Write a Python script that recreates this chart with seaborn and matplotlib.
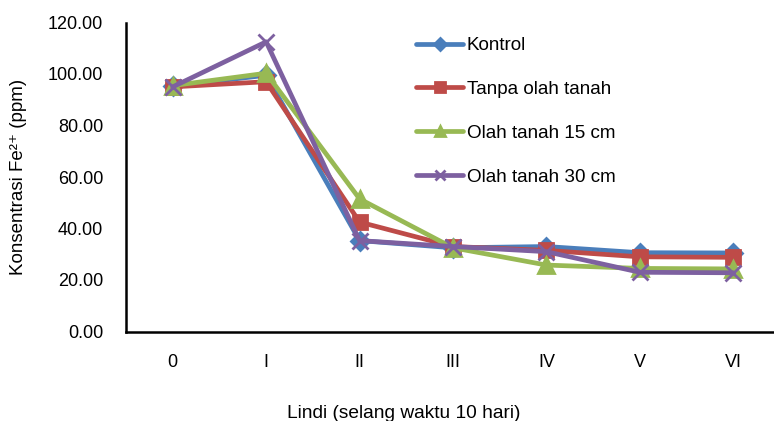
"""Fe2+ concentration in leachate over time, per tillage treatment."""

import numpy as np
import pandas as pd
import seaborn as sns
from matplotlib import pyplot as plt

periods = ["0", "I", "II", "III", "IV", "V", "VI"]
kontrol = [95.3, 99.5, 35.3, 32.5, 33.0, 30.6, 30.5]
tanpa_olah = [95.0, 97.0, 42.5, 33.0, 31.5, 29.0, 28.8]
olah_15 = [95.5, 100.3, 51.5, 32.5, 25.8, 24.5, 24.3]
olah_30 = [95.0, 112.5, 35.3, 33.0, 31.0, 23.0, 22.8]

series = {
    "Kontrol": kontrol,
    "Tanpa olah tanah": tanpa_olah,
    "Olah tanah 15 cm": olah_15,
    "Olah tanah 30 cm": olah_30,
}
palette = {
    "Kontrol": "#4A7EBB",
    "Tanpa olah tanah": "#BE4B48",
    "Olah tanah 15 cm": "#98B954",
    "Olah tanah 30 cm": "#7D60A0",
}
markers = {
    "Kontrol": "D",
    "Tanpa olah tanah": "s",
    "Olah tanah 15 cm": "^",
    "Olah tanah 30 cm": "x",
}
marker_sizes = {"Kontrol": 9, "Tanpa olah tanah": 10.5, "Olah tanah 15 cm": 11, "Olah tanah 30 cm": 11}

sns.set_theme(style="white")
plt.rcParams["font.family"] = ["Liberation Sans", "DejaVu Sans"]
plt.rcParams["text.color"] = "black"

fig = plt.figure(figsize=(7.74, 4.21), dpi=100)
ax = fig.add_axes([126 / 774, 1 - 331.5 / 421, 654 / 774, 309 / 421])

for name, values in series.items():
    df = pd.DataFrame({"pos": np.arange(len(periods)), "value": values})
    sns.lineplot(
        data=df, x="pos", y="value", ax=ax, color=palette[name], label=name,
        linewidth=3.4, marker=markers[name], markersize=marker_sizes[name],
        markeredgewidth=2, markeredgecolor=palette[name],
    )

ax.set_xlim(-0.5, 6.5)
ax.set_ylim(0, 120)
ax.set_yticks(np.arange(0, 121, 20))
ax.set_yticklabels([f"{v:.2f}" for v in np.arange(0, 121, 20)], fontsize=13)
ax.set_xticks(np.arange(len(periods)))
ax.set_xticklabels(periods, fontsize=13)
ax.set_xticks(np.arange(-0.5, 6.6, 1), minor=True)
ax.tick_params(axis="x", which="major", length=0, pad=16)
ax.tick_params(axis="x", which="minor", length=5, width=1.5, color="black", direction="out")
ax.tick_params(axis="y", length=5, width=1.5, color="black", direction="out", pad=11.5)
ax.tick_params(colors="black")

for side in ["top", "right"]:
    ax.spines[side].set_visible(False)
for side in ["left", "bottom"]:
    ax.spines[side].set_color("black")
    ax.spines[side].set_linewidth(1.8)

ax.set_xlabel("")
ax.set_ylabel("")
fig.text(0.024, 1 - 177 / 421, "Konsentrasi Fe²⁺ (ppm)", rotation=90,
         ha="center", va="center", fontsize=13.5)
fig.text(404 / 774, 1 - 413 / 421, "Lindi (selang waktu 10 hari)",
         ha="center", va="center", fontsize=13.8)

handles, labels = ax.get_legend_handles_labels()
ax.legend(
    handles, labels, loc="upper left", bbox_to_anchor=(399 / 774, 1 - 20 / 421),
    bbox_transform=fig.transFigure, frameon=False, fontsize=13.6,
    handlelength=2.5, handletextpad=0.2, labelspacing=1.41, markerscale=0.7,
)

fig.savefig("out.png", dpi=100)
